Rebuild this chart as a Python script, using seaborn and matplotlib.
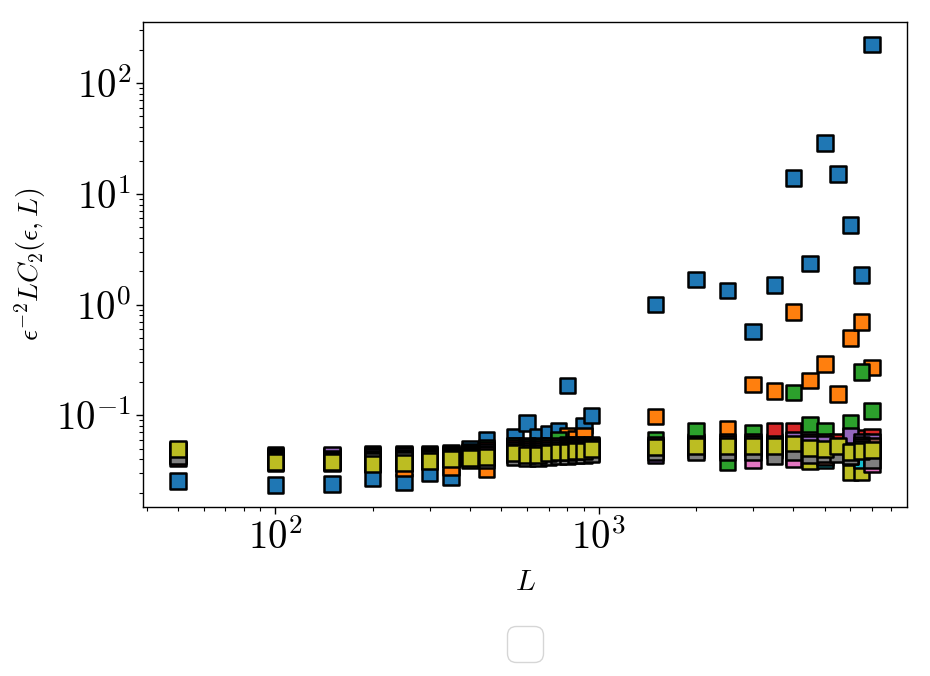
import numpy as np
import pandas as pd
import matplotlib
matplotlib.use("Agg")
import matplotlib.pyplot as plt
import seaborn as sns
from matplotlib.ticker import FuncFormatter

# --- data (L on x, eps^-2 L C2 on y) ---
L_VALUES = [50, 100, 150, 200, 250, 300, 350, 400, 450,
            550, 600, 650, 700, 750, 800, 850, 900, 950,
            1500, 2000, 2500, 3000, 3500, 4000, 4500, 5000, 5500, 6000, 6500, 7000]

olive_lo = [0.0456, 0.0371, 0.0371, 0.0364, 0.0371, 0.0387, 0.0403, 0.0412, 0.0420,
            0.0456, 0.0438, 0.0438, 0.0456, 0.0465, 0.0465, 0.0475, 0.0475, 0.0495,
            0.0515, 0.0526, 0.0526, 0.0526, 0.0526, 0.0558, 0.0387, 0.0495, 0.0526, 0.0306, 0.0306, 0.0485]
cyan = [0.0465, 0.0379, 0.0379, 0.0371, 0.0371, 0.0387, 0.0403, 0.0412, 0.0420,
        0.0447, 0.0438, 0.0438, 0.0447, 0.0456, 0.0456, 0.0465, 0.0465, 0.0485,
        0.0505, 0.0515, 0.0515, 0.0515, 0.0515, 0.0547, 0.0495, 0.0395, 0.0515, 0.0456, 0.0395, 0.0475]
blue = [0.0254, 0.0235, 0.0240, 0.0270, 0.0250, 0.0300, 0.0277, 0.0500, 0.0597,
        0.0646, 0.0848, 0.0646, 0.0687, 0.0718, 0.186, 0.0550, 0.0813, 0.100,
        1.0, 1.68, 1.34, 0.57, 1.51, 13.9, 2.34, 28.8, 15.1, 5.25, 1.86, 224.0]
orange = [0.0485, 0.0438, 0.0429, 0.0447, 0.0335, 0.0447, 0.0342, 0.0465, 0.0325,
          0.0536, 0.0526, 0.0536, 0.0536, 0.0547, 0.066, 0.062, 0.066, 0.0547,
          0.098, 0.0582, 0.076, 0.19, 0.166, 0.86, 0.207, 0.29, 0.155, 0.50, 0.70, 0.27]
green = [0.0475, 0.0429, 0.0420, 0.0438, 0.0447, 0.0438, 0.0456, 0.0456, 0.0505,
         0.0526, 0.0515, 0.0515, 0.0526, 0.060, 0.0547, 0.0547, 0.0547, 0.0536,
         0.060, 0.072, 0.038, 0.070, 0.0582, 0.161, 0.083, 0.072, 0.0547, 0.086, 0.245, 0.11]
red = [0.0412, 0.0420, 0.0412, 0.0429, 0.0438, 0.0429, 0.0447, 0.0447, 0.0485,
       0.0505, 0.0495, 0.0495, 0.0505, 0.0526, 0.0526, 0.0526, 0.0526, 0.0515,
       0.0547, 0.0558, 0.0582, 0.0582, 0.073, 0.072, 0.0582, 0.0582, 0.058, 0.0606, 0.063, 0.064]
purple = [0.0465, 0.0412, 0.0438, 0.0420, 0.0429, 0.0420, 0.0438, 0.0438, 0.0465,
          0.0485, 0.0475, 0.0475, 0.0485, 0.0505, 0.0505, 0.0505, 0.0505, 0.0495,
          0.0440, 0.0536, 0.0558, 0.0558, 0.0558, 0.0606, 0.0558, 0.0558, 0.0505, 0.066, 0.0582, 0.0582]
brown = [0.0447, 0.0403, 0.0403, 0.0403, 0.0412, 0.0412, 0.0429, 0.0429, 0.0447,
         0.0465, 0.0456, 0.0456, 0.0465, 0.0485, 0.0485, 0.0485, 0.0485, 0.0475,
         0.0505, 0.0505, 0.0505, 0.0505, 0.0505, 0.0420, 0.0475, 0.0420, 0.0485, 0.0447, 0.0547, 0.0536]
pink = [0.0438, 0.0395, 0.0395, 0.0395, 0.0403, 0.0403, 0.0420, 0.0420, 0.0438,
        0.0438, 0.0429, 0.0429, 0.0438, 0.0447, 0.0447, 0.0456, 0.0456, 0.0456,
        0.0485, 0.0485, 0.0485, 0.0395, 0.0485, 0.0403, 0.0456, 0.0465, 0.0465, 0.0429, 0.0515, 0.0365]
gray = [0.0429, 0.0387, 0.0387, 0.0387, 0.0395, 0.0403, 0.0412, 0.0395, 0.0395,
        0.0420, 0.0412, 0.0412, 0.0420, 0.0429, 0.0429, 0.0438, 0.0438, 0.0447,
        0.0465, 0.0465, 0.0465, 0.0465, 0.0430, 0.0465, 0.0438, 0.0447, 0.0447, 0.0430, 0.0495, 0.0395]
olive_hi = [0.0495, 0.0379, 0.0379, 0.0364, 0.0371, 0.0387, 0.0403, 0.0412, 0.0420,
            0.0456, 0.0438, 0.0438, 0.0456, 0.0465, 0.0465, 0.0475, 0.0475, 0.0495,
            0.0515, 0.0526, 0.0526, 0.0526, 0.0526, 0.0558, 0.0505, 0.0495, 0.0526, 0.0465, 0.0475, 0.0485]

tab = sns.color_palette("tab10")
# drawing order: later series sit on top
SERIES = [
    ("s0", olive_lo, tab[8]),
    ("s9", cyan, tab[9]),
    ("s1", blue, tab[0]),
    ("s2", orange, tab[1]),
    ("s3", green, tab[2]),
    ("s4", red, tab[3]),
    ("s5", purple, tab[4]),
    ("s6", brown, tab[5]),
    ("s7", pink, tab[6]),
    ("s8", gray, tab[7]),
    ("s10", olive_hi, tab[8]),
]

frames = [pd.DataFrame({"L": L_VALUES, "C2": vals, "eps": name}) for name, vals, _ in SERIES]
df = pd.concat(frames, ignore_index=True)
palette = {name: col for name, _, col in SERIES}

sns.set_style("ticks")
plt.rcParams["mathtext.fontset"] = "cm"

fig = plt.figure(figsize=(9.3, 6.76), dpi=100)
ax = fig.add_axes([0.154, 0.25, 0.821, 0.717])

sns.scatterplot(data=df, x="L", y="C2", hue="eps", palette=palette, marker="s",
                s=125, edgecolor="black", linewidth=1.8, legend=False, ax=ax)

ax.set_xscale("log")
ax.set_yscale("log")
ax.margins(0.05)

fmt = FuncFormatter(lambda v, p: r"$10^{%d}$" % int(round(np.log10(v))))
ax.xaxis.set_major_formatter(fmt)
ax.yaxis.set_major_formatter(fmt)
ax.tick_params(axis="both", which="major", labelsize=28, length=5, width=1,
               color="black", labelcolor="black")
ax.tick_params(axis="both", which="minor", length=3, width=0.8, color="black")

for sp in ax.spines.values():
    sp.set_color("black")
    sp.set_linewidth(1.0)

ax.set_xlabel(r"$L$", fontsize=21, labelpad=8, color="black")
ax.set_ylabel(r"$\epsilon^{-2}LC_2(\epsilon,L)$", fontsize=20, labelpad=6, color="black")

# empty legend box, as in the original figure
ax.legend(handles=[], loc="upper center", bbox_to_anchor=(0.5, -0.2), fontsize=32)

fig.savefig("out.png", dpi=100)
